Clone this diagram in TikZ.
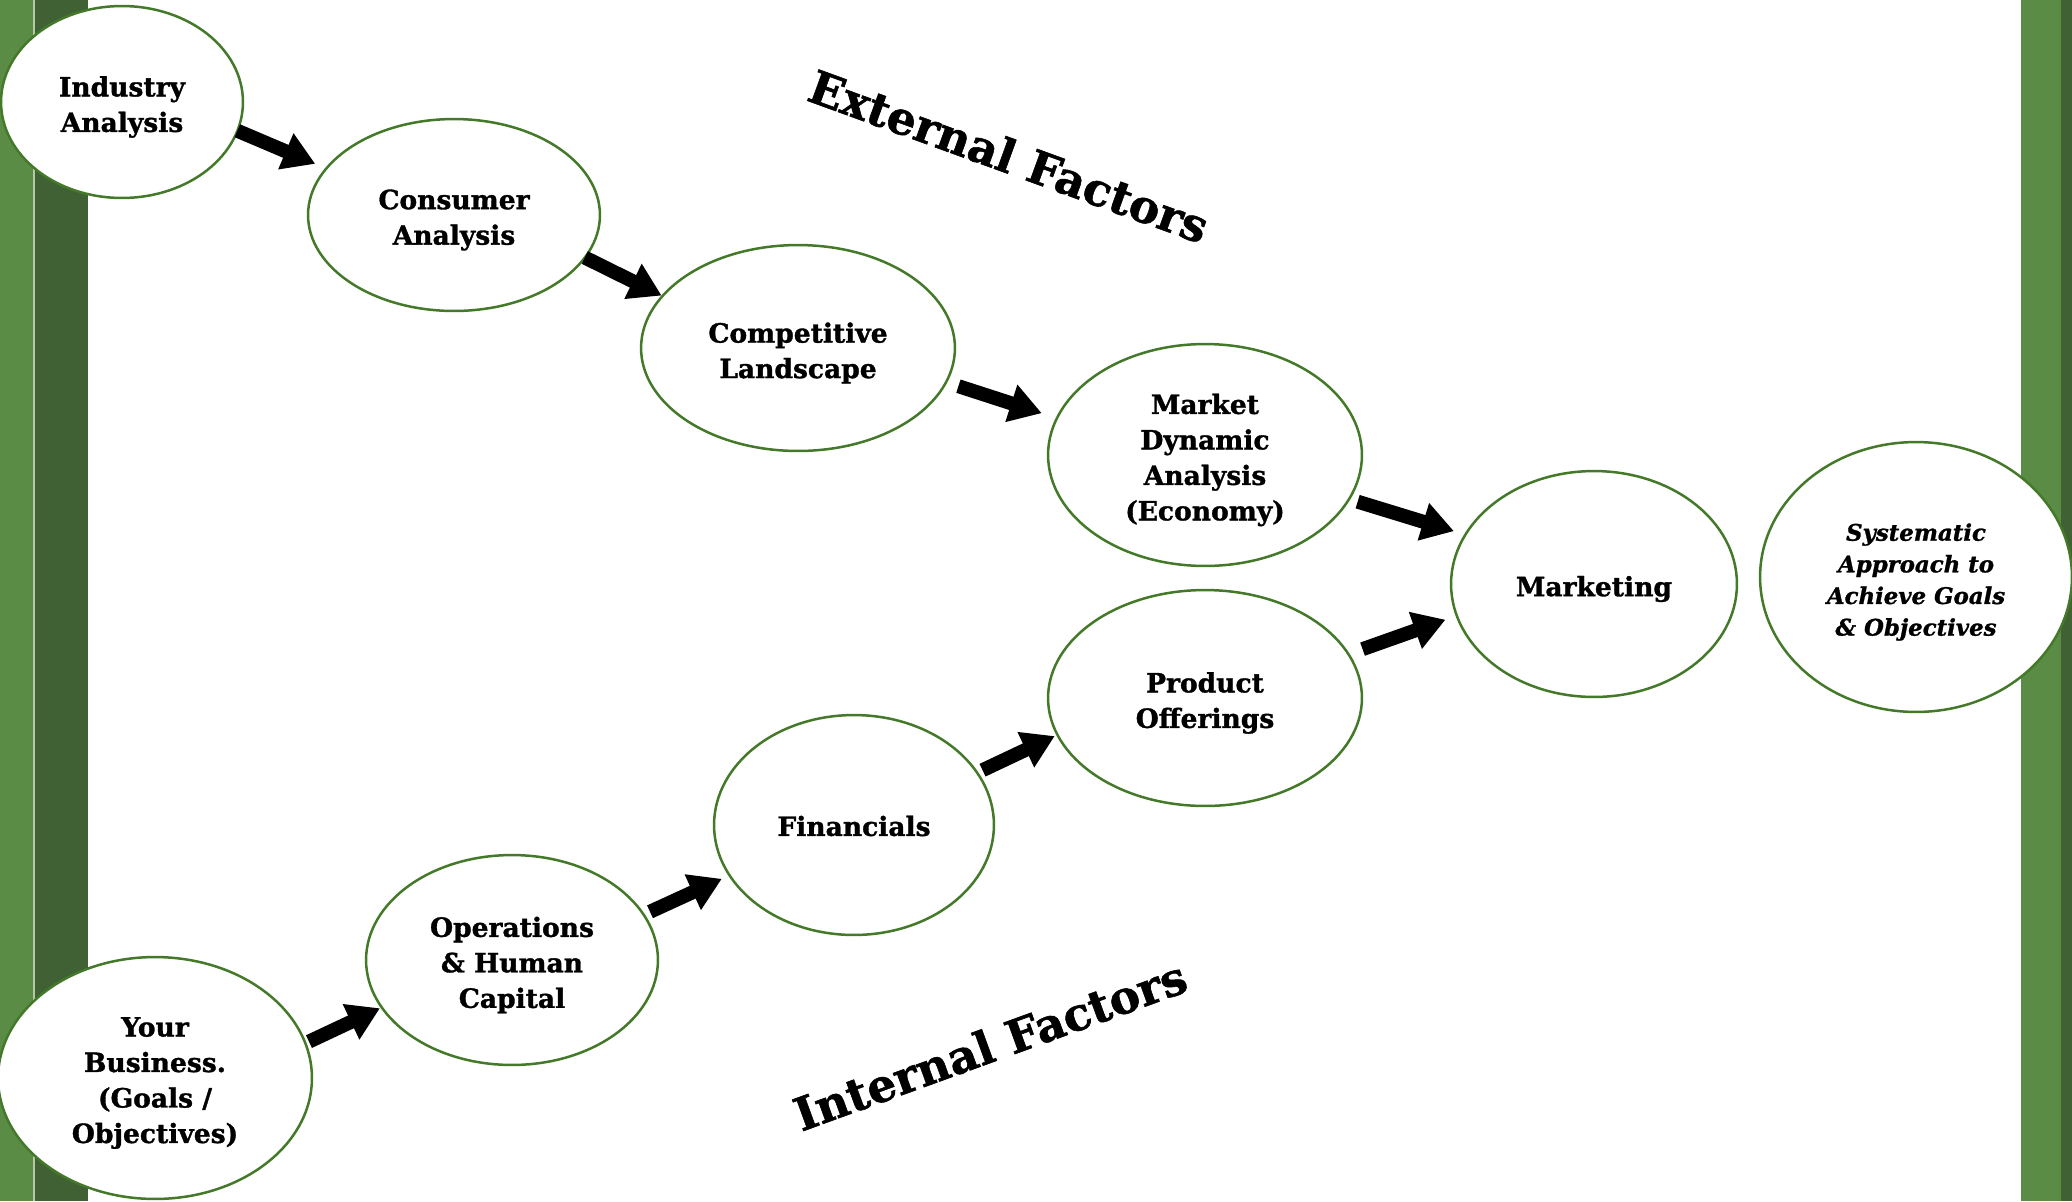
\documentclass[tikz,border=0pt]{standalone}
\usepackage{fontspec}
\setmainfont{DejaVu Serif}[BoldFeatures={FakeBold=1.2},BoldItalicFeatures={FakeBold=1.2}]
\usetikzlibrary{arrows.meta,shapes.geometric}
\definecolor{barlight}{HTML}{5B8C46}
\definecolor{bardark}{HTML}{3F6134}
\definecolor{barsep}{HTML}{B5C9A8}
\definecolor{ellgreen}{HTML}{44792A}
\tikzset{
  ell/.style={ellipse, draw=ellgreen, line width=0.05cm, fill=white, inner sep=0pt, outer sep=0pt},
  es/.style 2 args={minimum width=#1*0.04cm, minimum height=#2*0.04cm},
  etext/.style={inner sep=0pt, align=center, yshift=-0.1cm, font=\bfseries\fontsize{15.1}{20.2}\selectfont},
  stext/.style={etext, font=\bfseries\itshape\fontsize{13}{18}\selectfont},
  blk/.style={draw=black, line width=0.28cm, -{Triangle[length=0.64cm,width=0.74cm]}},
  title/.style={font=\bfseries\fontsize{26}{30}\selectfont, inner sep=0pt}
}
\begin{document}
\begin{tikzpicture}[x=0.02cm, y=-0.02cm]
\useasboundingbox (0,0) rectangle (2072,1201);
\clip (0,0) rectangle (2072,1201);
\fill[white] (0,0) rectangle (2072,1201);
% side bars
\fill[barlight] (0,0) rectangle (33,1201);
\fill[barsep] (33,0) rectangle (35,1201);
\fill[bardark] (35,0) rectangle (88,1201);
\fill[barlight] (2021,0) rectangle (2061,1201);
\fill[bardark] (2061,0) rectangle (2072,1201);
% ellipses
\node[ell, es={121}{96}]  (ind)  at (122,102)  {};
\node[ell, es={146}{96}]  (con)  at (454,215)  {};
\node[ell, es={157}{103}] (comp) at (798,348)  {};
\node[ell, es={157}{111}] (mkt)  at (1205,455) {};
\node[ell, es={143}{113}] (mktg) at (1594,584) {};
\node[ell, es={156}{135}] (sys)  at (1916,577) {};
\node[ell, es={157}{108}] (prod) at (1205,698) {};
\node[ell, es={140}{110}] (fin)  at (854,825)  {};
\node[ell, es={146}{105}] (ops)  at (512,960)  {};
\node[ell, es={157}{121}] (biz)  at (155,1078) {};
% texts
\node[etext] (indt)  at (ind)  {Industry\\Analysis};
\node[etext] (cont)  at (con)  {Consumer\\Analysis};
\node[etext] (compt) at (comp) {Competitive\\Landscape};
\node[etext] (mktt)  at (mkt)  {Market\\Dynamic\\Analysis\\(Economy)};
\node[etext] (mktgt) at (mktg) {Marketing};
\node[stext] (syst)  at (sys)  {Systematic\\Approach to\\Achieve Goals\\\& Objectives};
\node[etext] (prodt) at (prod) {Product\\Offerings};
\node[etext, yshift=0.08cm] (fint)  at (fin)  {Financials};
\node[etext] (opst)  at (ops)  {Operations\\\& Human\\Capital};
\node[etext] (bizt)  at (biz)  {Your\\Business.\\(Goals /\\Objectives)};
% arrows
\draw[blk, shorten >=0.24cm] (ind.-14.5) -- (con.160.2);
\draw[blk, shorten >=0.02cm] (con.-18.2) -- (comp.159.7);
\draw[blk, shorten <=0.26cm, shorten >=0.32cm] (comp.-13.7) -- (mkt.166.4);
\draw[blk, shorten <=0.18cm, shorten >=0.24cm] (mkt.-17.5) -- (mktg.159.8);
\draw[blk, shorten <=0.30cm, shorten >=0.24cm] (prod.17.6) -- (mktg.193.2);
\draw[blk, shorten <=0.12cm, shorten >=0.06cm] (fin.23.1) -- (prod.194.6);
\draw[blk, shorten <=0.14cm, shorten >=0.17cm] (ops.19.2) -- (fin.202.2);
\draw[blk, shorten <=0.08cm, shorten >=0.04cm] (biz.13.9) -- (ops.200.4);
% titles
\node[title, rotate=-20] (ext) at (1009,156) {External Factors};
\node[title, rotate=20] (int) at (990,1045) {Internal Factors};
\end{tikzpicture}
\end{document}
